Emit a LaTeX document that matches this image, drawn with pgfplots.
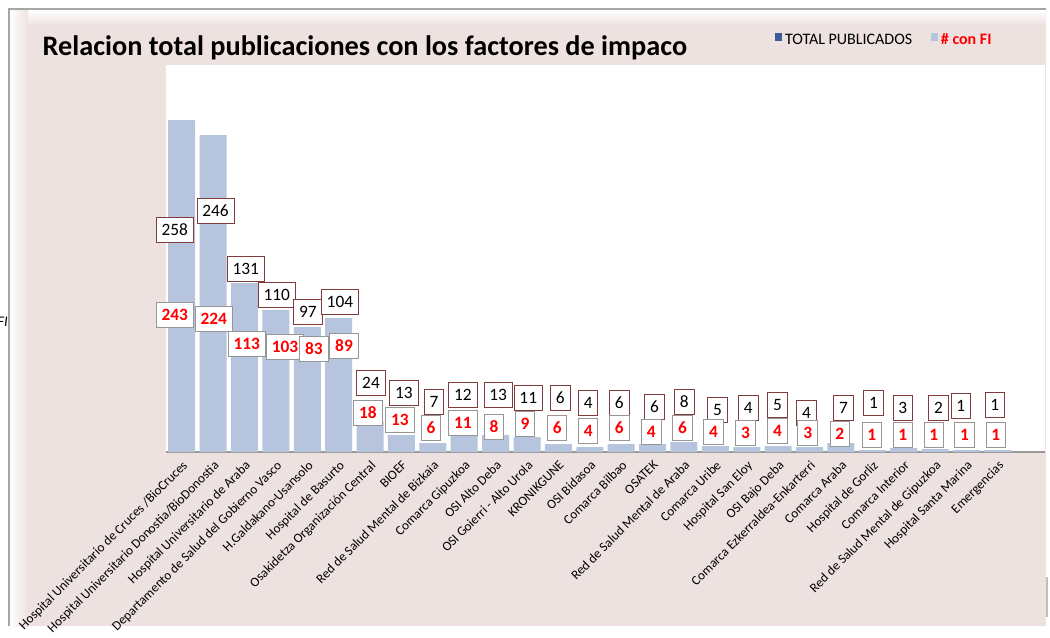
\documentclass[border=0pt]{standalone}
\usepackage{pgfplots}
\pgfplotsset{compat=1.18}
\usepackage{pgfplotstable}
\usepackage{fontspec}
\setmainfont{Carlito}

\definecolor{pinkbg}{RGB}{238,226,225}
\definecolor{barblue}{RGB}{183,196,222}
\definecolor{darkblue}{RGB}{61,92,150}
\definecolor{totbrd}{RGB}{128,60,60}
\definecolor{fibrd}{RGB}{150,150,150}

% bar = bar height, tot/fi = label text, totx/toty and fix/fiy = label centres
\pgfplotstableread{
x  bar tot totx  toty fi  fix   fiy
0  332 258 -0.22 222  243 -0.22 137
1  317 246 1.08  241  224 1.02  133
2  169 131 2.04  183  113 2.07  108
3  142 110 3.03  157  103 3.29  105
4  125 97  4.02  140  83  4.21  103
5  134 104 5.04  150  89  5.17  106
6  30  24  6.03  69   18  5.93  39
7  17  13  7.08  59   13  6.95  32
8  9   7   8.04  50   6   7.94  24
9  16  12  8.96  57   11  8.96  29
10 17  13  10.08 57   8   9.95  25
11 15  11  11.04 54   9   10.94 28
12 8   6   12.06 54   6   11.96 24
13 5   4   12.95 49   4   12.95 21
14 8   6   13.94 49   6   13.94 24
15 8   6   15.06 45   4   14.96 20
16 10  8   16.01 50   6   15.95 24
17 6   5   17.07 42   4   16.94 20
18 5   4   18.05 44   3   17.96 19
19 6   5   18.98 47   4   18.98 21
20 5   4   19.90 39   3   19.94 19
21 9   7   21.08 44   2   20.96 18
22 2   1   22.04 49   1   21.98 17
23 4   3   22.97 44   1   22.97 17
24 3   2   24.11 44   1   23.96 17
25 2   1   24.82 46   1   24.94 17
26 2   1   25.90 47   1   25.93 17
}\data

\begin{document}
\begin{tikzpicture}[x=0.75pt,y=0.75pt]
\useasboundingbox (0,0) rectangle (1050,637);
\fill[white] (0,0) rectangle (1050,637);
\fill[pinkbg] (10,11) rectangle (1046,627);
\shade[left color=white, right color=pinkbg] (10,11) rectangle (28,627);
\shade[top color=white, bottom color=pinkbg] (28,612) rectangle (1046,627);
\draw[gray!70, line width=1.2pt] (9,11) -- (9,628) -- (1046,628);
\draw[gray!50, line width=1.2pt] (1047,60) -- (1047,20);

\node[anchor=west, font=\fontsize{21.2}{24}\bfseries\selectfont] at (38,589) {Relacion total publicaciones con los factores de impaco};
\node[anchor=east, inner sep=0pt, font=\fontsize{11}{12}\itshape\selectfont] at (8,315) {\# con FI};

\begin{axis}[
  at={(124.5pt,138.75pt)}, anchor=south west,
  scale only axis, width=659.25pt, height=290.25pt,
  xmin=-0.5, xmax=27.5, ymin=0, ymax=387,
  axis x line*=bottom, axis y line=none,
  x axis line style={gray!80, line width=0.8pt, -},
  axis background/.style={fill=white},
  major tick length=0pt,
  xtick={0,...,26},
  xticklabels={{Hospital Universitario de Cruces /BioCruces},
    {Hospital Universitario Donostia/BioDonostia},
    {Hospital Universitario de Araba},
    {Departamento de Salud del Gobierno Vasco},
    {H.Galdakano-Usansolo},
    {Hospital de Basurto},
    {Osakidetza Organización Central},
    {BIOEF},
    {Red de Salud Mental de Bizkaia},
    {Comarca Gipuzkoa},
    {OSI Alto Deba},
    {OSI Goierri -  Alto Urola},
    {KRONIKGUNE},
    {OSI Bidasoa},
    {Comarca Bilbao},
    {OSATEK},
    {Red de Salud Mental de Araba},
    {Comarca Uribe},
    {Hospital  San Eloy},
    {OSI Bajo Deba},
    {Comarca Ezkerraldea-Enkarterri},
    {Comarca Araba},
    {Hospital de Gorliz},
    {Comarca Interior},
    {Red de Salud Mental de Gipuzkoa},
    {Hospital Santa Marina},
    {Emergencias}},
  xticklabel style={rotate=45, anchor=north east, inner sep=1pt,
    font=\fontsize{9.9}{11}\selectfont, yshift=-3pt, xshift=-3pt},
  clip=false,
  legend columns=2,
  legend style={at={(0.688,1.065)}, anchor=west, draw=none, fill=none,
    font=\fontsize{12}{13}\selectfont,
    /tikz/every even column/.append style={column sep=12pt}},
  legend image code/.code={\fill[#1] (0pt,-0.5pt) rectangle (5.5pt,5pt);},
]
\addlegendimage{fill=darkblue, draw=none}
\addlegendentry{TOTAL PUBLICADOS}
\addplot[ybar, bar width=20.25pt, bar shift=0pt, fill=barblue, draw=none]
  table[x=x, y=bar] {\data};
\addlegendentry{\textcolor{red}{\textbf{\# con FI}}}

\addplot[draw=none, mark=none, forget plot, point meta=explicit symbolic,
  nodes near coords={\pgfplotspointmeta},
  nodes near coords style={anchor=center, draw=totbrd, fill=white, line width=0.7pt,
    font=\fontsize{13}{14}\selectfont, text=black, inner xsep=4pt,
    minimum height=18.5pt}]
  table[x=totx, y=toty, meta=tot] {\data};
\addplot[draw=none, mark=none, forget plot, point meta=explicit symbolic,
  nodes near coords={\pgfplotspointmeta},
  nodes near coords style={anchor=center, draw=fibrd, fill=white, line width=0.7pt,
    font=\fontsize{13}{14}\bfseries\selectfont, text=red, inner xsep=4pt,
    minimum height=18.5pt}]
  table[x=fix, y=fiy, meta=fi] {\data};
\end{axis}
\end{tikzpicture}
\end{document}
